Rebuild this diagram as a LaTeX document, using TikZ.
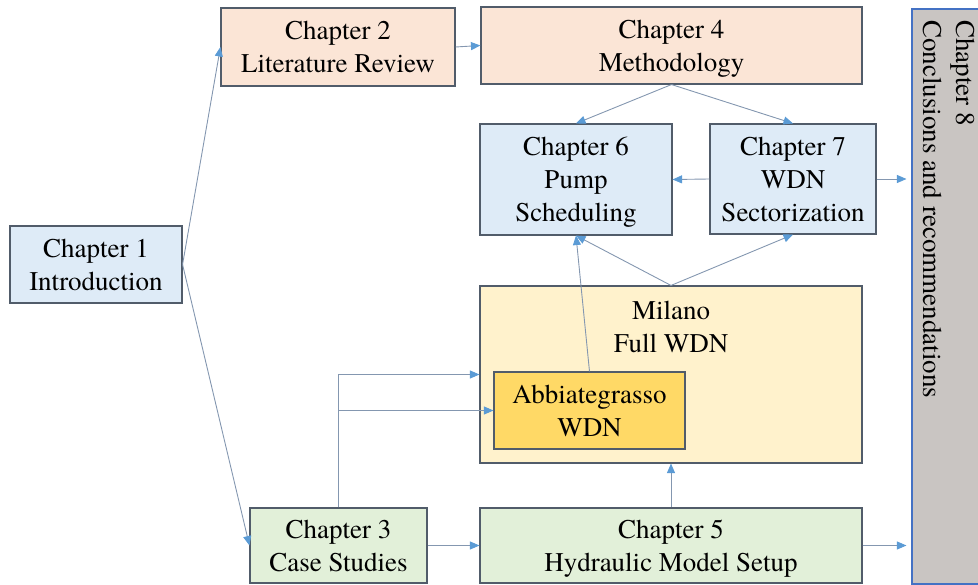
\documentclass[tikz,border=0pt]{standalone}
\usepackage{fontspec}
\setmainfont{texgyretermes-regular.otf}
\usetikzlibrary{arrows.meta}

\definecolor{boxline}{HTML}{515C6A}
\definecolor{linecol}{HTML}{8497B0}
\definecolor{tipcol}{HTML}{5B9BD5}
\definecolor{fillblue}{HTML}{DEEBF7}
\definecolor{fillpeach}{HTML}{FBE5D6}
\definecolor{fillgreen}{HTML}{E2F0D9}
\definecolor{fillcream}{HTML}{FFF2CC}
\definecolor{fillgold}{HTML}{FFD966}
\definecolor{fillgray}{HTML}{C9C5C2}
\definecolor{edgeblue}{HTML}{4472C4}

\begin{document}
\begin{tikzpicture}[x=1pt,y=-1pt,
  chapfont/.style={font=\fontsize{27}{33}\selectfont},
  % a fixed (negative) depth puts every caption at the same height in its box
  box/.style={draw=boxline, line width=1.1pt, rectangle, inner sep=0pt,
    align=center, chapfont, text depth=-3pt},
  conn/.style={draw=linecol, line width=0.9pt,
    -{Triangle[length=9.5pt,width=8pt,color=tipcol]}}]

\useasboundingbox (0,0) rectangle (978,585);

% chapter boxes
\node[box, fill=fillblue,  minimum width=172, minimum height=77]  (c1) at (96,264.5)   {Chapter 1\\Introduction};
\node[box, fill=fillpeach, minimum width=234, minimum height=78]  (c2) at (338,47)     {Chapter 2\\Literature Review};
\node[box, fill=fillpeach, minimum width=381, minimum height=77]  (c4) at (671.5,45.5) {Chapter 4\\Methodology};
\node[box, fill=fillblue,  minimum width=192, minimum height=111] (c6) at (576,179.5)  {Chapter 6\\Pump\\Scheduling};
\node[box, fill=fillblue,  minimum width=166, minimum height=110] (c7) at (793,179)    {Chapter 7\\WDN\\Sectorization};
\node[box, fill=fillgreen, minimum width=177, minimum height=75]  (c3) at (338.5,545.5) {Chapter 3\\Case Studies};
\node[box, fill=fillgreen, minimum width=382, minimum height=75]  (c5) at (671,545.5)  {Chapter 5\\Hydraulic Model Setup};

% case-study networks
\node[box, fill=fillcream, minimum width=382, minimum height=177] (milano) at (671,374.5) {};
\node[chapfont, align=center, inner sep=0pt, anchor=north] (milanotext) at (671,301) {Milano\\Full WDN};
\node[box, fill=fillgold, minimum width=191, minimum height=77] (abb) at (589.5,410.5) {Abbiategrasso\\WDN};

% conclusions column
\node[draw=edgeblue, line width=1.1pt, fill=fillgray, rectangle, inner sep=0pt,
  minimum width=73, minimum height=575] (c8) at (948.5,296.5) {};
\node[chapfont, rotate=-90, align=left, inner sep=0pt, anchor=north west] (c8text)
  at (975,20) {Chapter 8\\Conclusions and recommendations};

% connectors
\draw[conn] (c1.east) -- (c2.west);
\draw[conn] (c1.east) -- (c3.west);
\draw[conn] (c2.east) -- (c4.west);
\draw[conn] (c4.south) -- (c6.north);
\draw[conn] (c4.south) -- (c7.north);
\draw[conn] (c7.west) -- (c6.east);
\draw[conn, shorten >=5pt] (c7.east) -- (c8.west |- c7.east);
\draw[conn] (milano.north) -- (c6.south);
\draw[conn] (milano.north) -- (c7.south);
\draw[conn] (abb.north) -- (c6.south);
\draw[conn] (c3.north) |- (milano.west);
\draw[conn] (c3.north) |- (abb.west);
\draw[conn] (c3.east) -- (c5.west);
\draw[conn] (c5.north) -- (milano.south);
\draw[conn, shorten >=5pt] (c5.east) -- (c8.west |- c5.east);

\end{tikzpicture}
\end{document}
